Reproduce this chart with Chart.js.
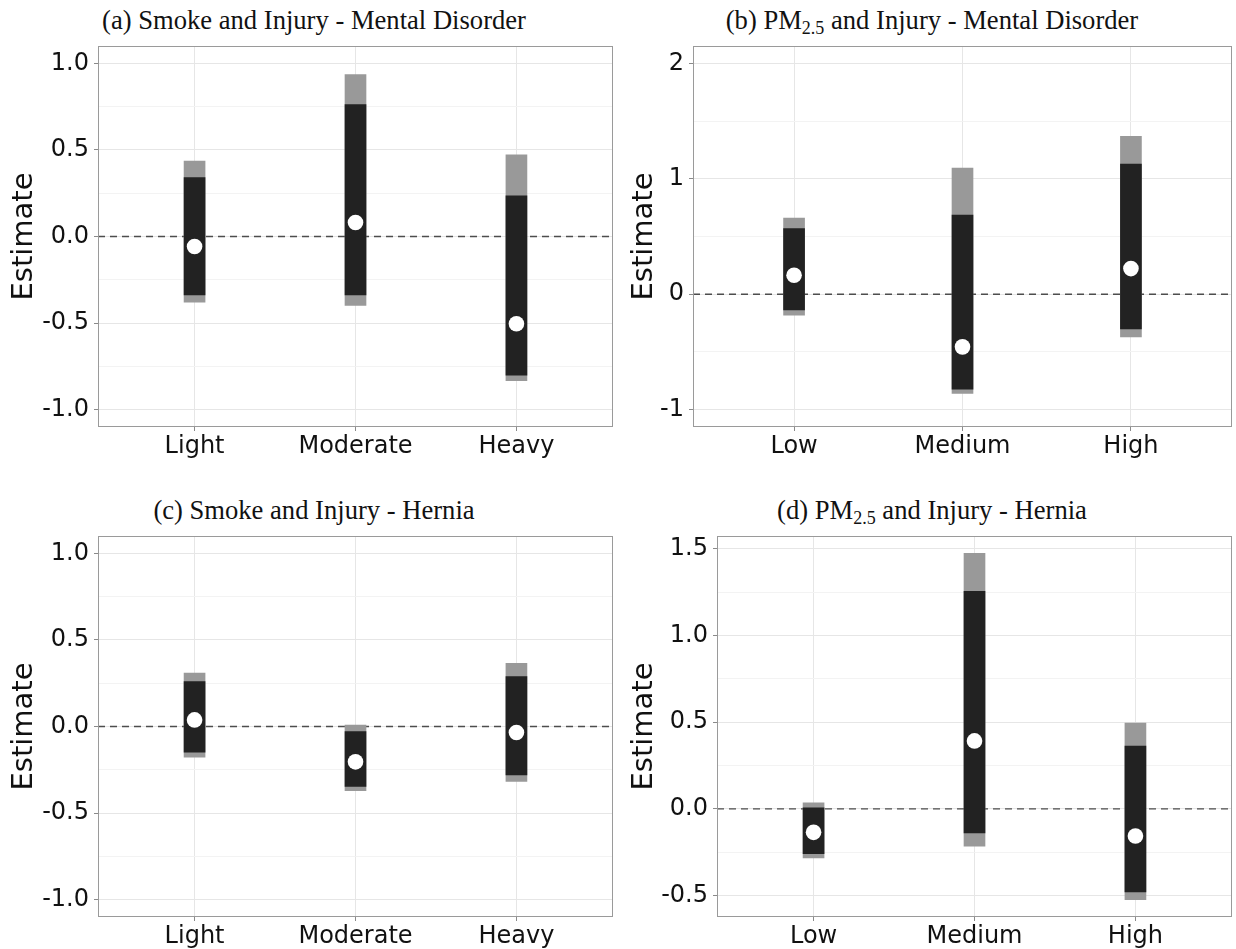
<!DOCTYPE html>
<html>
<head>
<meta charset="utf-8">
<script src="https://cdn.jsdelivr.net/npm/chart.js@4.4.1/dist/chart.umd.min.js"></script>
<style>
  html, body { margin: 0; padding: 0; background: #fff; width: 1236px; height: 949px; overflow: hidden; }
  .title { position: absolute; width: 620px; text-align: center; white-space: nowrap;
           font-family: "Liberation Serif", "Times New Roman", serif; font-size: 26.6px; line-height: 28px; color: #111; }
  .title sub { font-size: 18px; vertical-align: -5px; line-height: 0; }
  canvas { position: absolute; }
</style>
</head>
<body>
<div class="title" style="left:4px; top:6px">(a) Smoke and Injury - Mental Disorder</div>
<div class="title" style="left:622px; top:6px">(b) PM<sub>2.5</sub> and Injury - Mental Disorder</div>
<div class="title" style="left:4px; top:496px">(c) Smoke and Injury - Hernia</div>
<div class="title" style="left:622px; top:496px">(d) PM<sub>2.5</sub> and Injury - Hernia</div>

<canvas id="panelA" width="620" height="440" style="left:0; top:36px"></canvas>
<canvas id="panelB" width="616" height="440" style="left:620px; top:36px"></canvas>
<canvas id="panelC" width="620" height="440" style="left:0; top:526px"></canvas>
<canvas id="panelD" width="616" height="440" style="left:620px; top:526px"></canvas>

<script>
// Exposure categories
const smokeLevels = ['Light', 'Moderate', 'Heavy'];
const pmLevels = ['Low', 'Medium', 'High'];

// (a) Smoke and Injury - Mental Disorder
const estA   = [-0.058, 0.081, -0.504];
const lo90A  = [-0.338, -0.338, -0.800];
const hi90A  = [0.340, 0.762, 0.235];
const lo95A  = [-0.379, -0.398, -0.833];
const hi95A  = [0.435, 0.935, 0.471];

// (b) PM2.5 and Injury - Mental Disorder
const estB   = [0.164, -0.456, 0.222];
const lo90B  = [-0.136, -0.822, -0.300];
const hi90B  = [0.568, 0.686, 1.128];
const lo95B  = [-0.182, -0.860, -0.369];
const hi95B  = [0.660, 1.093, 1.367];

// (c) Smoke and Injury - Hernia
const estC   = [0.038, -0.204, -0.035];
const lo90C  = [-0.148, -0.346, -0.279];
const hi90C  = [0.259, -0.029, 0.288];
const lo95C  = [-0.177, -0.371, -0.317];
const hi95C  = [0.309, 0.008, 0.365];

// (d) PM2.5 and Injury - Hernia
const estD   = [-0.135, 0.392, -0.156];
const lo90D  = [-0.258, -0.138, -0.479];
const hi90D  = [0.006, 1.254, 0.362];
const lo95D  = [-0.283, -0.215, -0.523];
const hi95D  = [0.035, 1.473, 0.494];

// Y-axis tick values and labels
const yTicksA = [-1.0, -0.5, 0.0, 0.5, 1.0];
const yLabelsA = ['-1.0', '-0.5', '0.0', '0.5', '1.0'];
const yTicksB = [-1, 0, 1, 2];
const yLabelsB = ['-1', '0', '1', '2'];
const yTicksC = [-1.0, -0.5, 0.0, 0.5, 1.0];
const yLabelsC = ['-1.0', '-0.5', '0.0', '0.5', '1.0'];
const yTicksD = [-0.5, 0.0, 0.5, 1.0, 1.5];
const yLabelsD = ['-0.5', '0.0', '0.5', '1.0', '1.5'];

const X_TICK_FONT = { family: 'DejaVu Sans', size: 24, lineHeight: 1 };
// small line height keeps the label overhang from pushing the plot area down
const Y_TICK_FONT = { family: 'DejaVu Sans', size: 24, lineHeight: 0.2 };
const r3 = v => Math.round(v * 1000) / 1000;

// Frame around the plotting area
const panelFrame = {
  id: 'panelFrame',
  afterDraw(chart) {
    const { ctx, chartArea: a } = chart;
    ctx.save();
    ctx.strokeStyle = '#9a9a9a';
    ctx.lineWidth = 1;
    ctx.strokeRect(Math.round(a.left) + 0.5, Math.round(a.top) + 0.5,
                   Math.round(a.right - a.left) - 1, Math.round(a.bottom - a.top) - 1);
    ctx.restore();
  }
};

function makePanel(id, cats, est, lo90, hi90, lo95, hi95, yMin, yMax, majors, majorLabels, axisWidth, padRight) {
  const step = majors[1] - majors[0];
  const minors = [majors[0] - step / 2].concat(majors.map(v => v + step / 2))
    .map(r3).filter(v => v > yMin && v < yMax);
  const allTicks = majors.map(r3).concat(minors).sort((a, b) => a - b);
  const isMajor = v => majors.some(m => Math.abs(m - v) < 1e-6);
  const xs = cats.map((c, i) => i + 1);

  new Chart(document.getElementById(id), {
    type: 'bar',
    plugins: [panelFrame],
    data: {
      datasets: [
        {
          type: 'line',
          data: [{ x: 0.4, y: 0 }, { x: 3.6, y: 0 }],
          borderColor: '#4d4d4d', borderWidth: 1.3, borderDash: [7, 5],
          pointRadius: 0, order: 3
        },
        {
          type: 'bar',
          data: xs.map((x, i) => ({ x, y: [lo95[i], hi95[i]] })),
          backgroundColor: '#999999', borderWidth: 0, barThickness: 21,
          grouped: false, order: 2
        },
        {
          type: 'bar',
          data: xs.map((x, i) => ({ x, y: [lo90[i], hi90[i]] })),
          backgroundColor: '#222222', borderWidth: 0, barThickness: 21,
          grouped: false, order: 1
        },
        {
          type: 'scatter',
          data: xs.map((x, i) => ({ x, y: est[i] })),
          backgroundColor: '#ffffff', borderWidth: 0, pointRadius: 7.8, order: 0
        }
      ]
    },
    options: {
      responsive: false,
      animation: false,
      layout: { autoPadding: false, padding: { top: 10, right: padRight, bottom: 0, left: 0 } },
      plugins: { legend: { display: false }, tooltip: { enabled: false } },
      scales: {
        x: {
          type: 'linear', min: 0.4, max: 3.6, offset: false,
          afterBuildTicks: s => { s.ticks = xs.map(v => ({ value: v })); },
          afterFit: s => { s.height = 49; },
          grid: { offset: false, color: '#e6e6e6', lineWidth: 1, tickLength: 4, tickColor: '#8a8a8a', drawTicks: true },
          border: { display: false },
          ticks: {
            autoSkip: false, maxRotation: 0, padding: 4, color: '#111', font: X_TICK_FONT,
            callback: v => cats[Math.round(v) - 1] || ''
          }
        },
        y: {
          type: 'linear', min: yMin, max: yMax,
          afterBuildTicks: s => { s.ticks = allTicks.map(v => ({ value: v })); },
          afterFit: s => { s.width = axisWidth; },
          grid: {
            color: c => (c.tick && !isMajor(c.tick.value)) ? '#f3f3f3' : '#e6e6e6',
            lineWidth: 1, tickLength: 4,
            tickColor: c => (c.tick && !isMajor(c.tick.value)) ? 'rgba(0,0,0,0)' : '#8a8a8a'
          },
          border: { display: false },
          ticks: {
            autoSkip: false, padding: 5, color: '#111', font: Y_TICK_FONT,
            callback: v => {
              const k = majors.findIndex(m => Math.abs(m - v) < 1e-6);
              return k >= 0 ? majorLabels[k] : '';
            }
          },
          title: {
            display: true, text: 'Estimate', color: '#111',
            font: { family: 'DejaVu Sans', size: 29, lineHeight: 1 },
            padding: { top: 10, bottom: 0 }
          }
        }
      }
    }
  });
}

makePanel('panelA', smokeLevels, estA, lo90A, hi90A, lo95A, hi95A, -1.1, 1.1, yTicksA, yLabelsA, 98, 7);
makePanel('panelB', pmLevels, estB, lo90B, hi90B, lo95B, hi95B, -1.15, 2.15, yTicksB, yLabelsB, 73, 4);
makePanel('panelC', smokeLevels, estC, lo90C, hi90C, lo95C, hi95C, -1.1, 1.1, yTicksC, yLabelsC, 98, 7);
makePanel('panelD', pmLevels, estD, lo90D, hi90D, lo95D, hi95D, -0.623, 1.573, yTicksD, yLabelsD, 97, 4);
</script>
</body>
</html>
